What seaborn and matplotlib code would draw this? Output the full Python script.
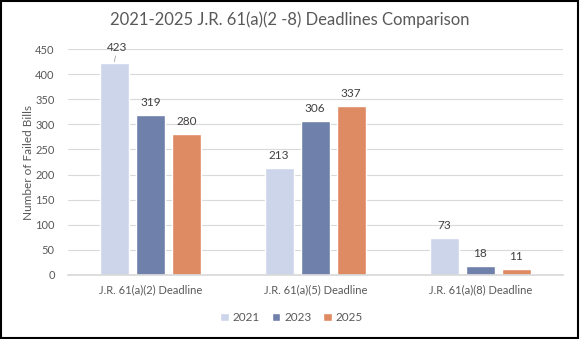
import matplotlib
matplotlib.use("Agg")
import matplotlib.pyplot as plt
import seaborn as sns
import pandas as pd
from matplotlib.patches import Rectangle

categories = ["J.R. 61(a)(2) Deadline", "J.R. 61(a)(5) Deadline", "J.R. 61(a)(8) Deadline"]
years = ["2021", "2023", "2025"]
values_2021 = [423, 213, 73]
values_2023 = [319, 306, 18]
values_2025 = [280, 337, 11]
yticks = [0, 50, 100, 150, 200, 250, 300, 350, 400, 450]

rows = []
for yr, vals in zip(years, [values_2021, values_2023, values_2025]):
    for c, v in zip(categories, vals):
        rows.append({"Deadline": c, "Year": yr, "Bills": v})
df = pd.DataFrame(rows)

sns.set_theme(style="white")
plt.rcParams["font.family"] = ["Lato", "DejaVu Sans"]

palette = {"2021": "#CDD5EA", "2023": "#6F80AB", "2025": "#DE8A62"}
text_color = "#595959"

fig = plt.figure(figsize=(5.8, 3.39), dpi=100)
ax = fig.add_axes([0.117, 0.189, 0.853, 0.666])
sns.barplot(data=df, x="Deadline", y="Bills", hue="Year", palette=palette,
            width=0.655, gap=0.19, ax=ax, saturation=1, legend=True)

ax.set_ylim(0, 450)
ax.set_xlim(-0.5, 2.5)
ax.set_yticks(yticks)
ax.yaxis.grid(True, color="#D9D9D9", linewidth=0.8)
ax.set_axisbelow(True)
for s in ["top", "right", "left"]:
    ax.spines[s].set_visible(False)
ax.spines["bottom"].set_color("#D9D9D9")
ax.tick_params(axis="both", length=0, colors=text_color, labelsize=8)
ax.tick_params(axis="y", pad=9.5)
ax.tick_params(axis="x", pad=7)
ax.set_xlabel("")
ax.set_ylabel("Number of Failed Bills", fontsize=8.5, color=text_color, va="center")
ax.yaxis.set_label_coords(-0.08, 0.5)

for cont in ax.containers:
    for bar in cont:
        h = bar.get_height()
        xc = bar.get_x() + bar.get_width() / 2
        if h > 400:
            ax.annotate(f"{int(h)}", xy=(xc, h + 2), xytext=(xc + 0.02, h + 20),
                        ha="center", va="bottom", fontsize=8.5, color="#404040",
                        annotation_clip=False,
                        arrowprops=dict(arrowstyle="-", color="#A6A6A6", lw=0.6,
                                        shrinkA=0, shrinkB=0))
        else:
            ax.text(xc, h + 14, f"{int(h)}", ha="center", va="bottom",
                    fontsize=8.5, color="#404040")

handles, labels = ax.get_legend_handles_labels()
ax.get_legend().remove()
leg = fig.legend(handles, labels, loc="center", bbox_to_anchor=(0.503, 0.062), ncol=3,
                 frameon=False, fontsize=8.5, handlelength=0.7, handleheight=0.7,
                 handletextpad=0.35, columnspacing=1.0)
for t in leg.get_texts():
    t.set_color(text_color)

fig.suptitle("2021-2025 J.R. 61(a)(2 -8) Deadlines Comparison", x=0.5, y=0.965,
             fontsize=12, color=text_color)

fig.patches.append(Rectangle((0.002, 0.003), 0.995, 0.993, transform=fig.transFigure,
                             fill=False, edgecolor="black", linewidth=1.5))

fig.savefig("out.png", dpi=100)
